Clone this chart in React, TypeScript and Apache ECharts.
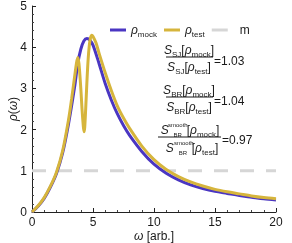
import React, { useEffect, useRef } from "react";
import * as echarts from "echarts";

const omegaMock = [0, 0.5, 1, 1.5, 2, 2.5, 3, 3.5, 3.75, 4, 4.25, 4.5, 4.75, 5, 5.5, 6, 6.5, 7, 7.5, 8, 9, 10, 11, 12, 13, 14, 15, 16, 17, 18, 19, 20];
const rhoMock = [0, 0.14, 0.33, 0.6, 0.93, 1.42, 2.15, 3.05, 3.6, 3.95, 4.15, 4.21, 4.17, 4.05, 3.6, 3.12, 2.72, 2.38, 2.1, 1.86, 1.47, 1.16, 0.94, 0.78, 0.66, 0.57, 0.5, 0.45, 0.4, 0.36, 0.32, 0.29];
const omegaTest = [0, 0.5, 1, 1.5, 2, 2.5, 3, 3.25, 3.5, 3.65, 3.75, 3.85, 4, 4.1, 4.2, 4.26, 4.32, 4.4, 4.5, 4.6, 4.7, 4.8, 4.9, 5, 5.25, 5.5, 6, 6.5, 7, 7.5, 8, 9, 10, 11, 12, 13, 14, 15, 16, 17, 18, 19, 20];
const rhoTest = [0, 0.15, 0.35, 0.62, 0.96, 1.47, 2.25, 2.75, 3.3, 3.62, 3.75, 3.6, 3.0, 2.5, 2.1, 1.95, 2.05, 2.5, 3.15, 3.7, 4.05, 4.23, 4.29, 4.26, 4.1, 3.85, 3.38, 2.95, 2.57, 2.28, 2.03, 1.6, 1.27, 1.03, 0.86, 0.73, 0.63, 0.55, 0.49, 0.44, 0.39, 0.35, 0.32];
const omegaM = [0, 20];
const rhoM = [1, 1];
const seriesNames = ["ρmock", "ρtest", "m"];
const ratioValues = ["=1.03", "=1.04", "=0.97"];

const FONT = "'Liberation Sans', Arial, sans-serif";
const BLUE = "#4a36c2";
const GOLD = "#d6b53c";
const GRAY = "#d6d6d6";
const TXT = "#1a1a1a";

const rich: any = {
  i: { fontSize: 12, fontStyle: "italic", fontFamily: FONT, fill: TXT, lineHeight: 16, verticalAlign: "middle" },
  n: { fontSize: 12, fontFamily: FONT, fill: TXT, lineHeight: 16, verticalAlign: "middle" },
  s: { fontSize: 8, fontFamily: FONT, fill: TXT, lineHeight: 16, verticalAlign: "bottom" },
  sw: { fontSize: 6, fontFamily: FONT, fill: TXT, lineHeight: 15, verticalAlign: "bottom", width: 18, align: "left" },
};

function textEl(x: number, y: number, text: string, align = "center") {
  return {
    type: "text",
    x,
    y,
    z: 100,
    style: { text, rich, align, verticalAlign: "middle", fontSize: 12, fontFamily: FONT, fill: TXT },
  };
}
function lineEl(x1: number, x2: number, y: number) {
  return { type: "line", z: 100, shape: { x1, y1: y, x2, y2: y }, style: { stroke: TXT, lineWidth: 1 } };
}
function supEl(x: number, y: number, text: string) {
  return {
    type: "text",
    x,
    y,
    z: 100,
    style: { text, align: "left", verticalAlign: "middle", fontSize: 6, fontFamily: FONT, fill: TXT },
  };
}

export default function App() {
  const ref = useRef<HTMLDivElement>(null);
  useEffect(() => {
    if (!ref.current) return;
    const chart = echarts.init(ref.current, null, { renderer: "svg" });
    const mockData = omegaMock.map((w, k) => [w, rhoMock[k]]);
    const testData = omegaTest.map((w, k) => [w, rhoTest[k]]);
    const mData = omegaM.map((w, k) => [w, rhoM[k]]);
    const axisCommon: any = {
      type: "value",
      axisLine: { show: true, lineStyle: { color: "#222", width: 1 } },
      axisTick: { show: true, inside: true, length: 4, lineStyle: { color: "#222" } },
      minorTick: { show: true, splitNumber: 5, length: 2, lineStyle: { color: "#444" } },
      splitLine: { show: false },
      minorSplitLine: { show: false },
      axisLabel: { color: TXT, fontSize: 12, fontFamily: FONT },
      nameMoveOverlap: false,
    };
    chart.setOption({
      animation: false,
      grid: { left: 32, right: 16, top: 6, bottom: 31, containLabel: false, outerBoundsMode: "none" },
      legend: {
        data: seriesNames,
        left: 105,
        top: 19,
        icon: "rect",
        itemWidth: 16,
        itemHeight: 3,
        itemGap: 7,
        formatter: (name: string) => {
          if (name === "m") return "{n|m}";
          return "{i|ρ}{s|" + name.slice(1) + "}";
        },
        textStyle: {
          fontFamily: FONT,
          fontSize: 12,
          color: TXT,
          rich: {
            i: { fontSize: 12, fontStyle: "italic", fontFamily: FONT, color: TXT, lineHeight: 16, verticalAlign: "middle" },
            n: { fontSize: 12, fontFamily: FONT, color: TXT, lineHeight: 16, verticalAlign: "middle", padding: [0, 0, 0, 7] },
            s: { fontSize: 8, fontFamily: FONT, color: TXT, lineHeight: 16, verticalAlign: "bottom" },
          },
        },
      },
      xAxis: {
        ...axisCommon,
        min: 0,
        max: 20,
        interval: 5,
        axisLabel: { ...axisCommon.axisLabel, margin: 4 },
        name: "{i|ω} [arb.]",
        nameLocation: "middle",
        nameGap: 18,
        nameTextStyle: {
          fontSize: 12,
          fontFamily: FONT,
          color: TXT,
          rich: { i: { fontSize: 12, fontStyle: "italic", fontFamily: FONT, color: TXT } },
        },
      },
      yAxis: {
        ...axisCommon,
        min: 0,
        max: 5,
        interval: 1,
        axisLabel: { ...axisCommon.axisLabel, margin: 5 },
        name: "{i|ρ}({i|ω})",
        nameLocation: "middle",
        nameGap: 13,
        nameTextStyle: {
          fontSize: 12,
          fontFamily: FONT,
          color: TXT,
          rich: { i: { fontSize: 12, fontStyle: "italic", fontFamily: FONT, color: TXT } },
        },
      },
      series: [
        {
          name: seriesNames[0],
          type: "line",
          data: mockData,
          smooth: 0.3,
          symbol: "none",
          z: 3,
          lineStyle: { color: BLUE, width: 3 },
          itemStyle: { color: BLUE },
        },
        {
          name: seriesNames[1],
          type: "line",
          data: testData,
          smooth: 0.3,
          symbol: "none",
          z: 4,
          lineStyle: { color: GOLD, width: 3 },
          itemStyle: { color: GOLD },
        },
        {
          name: seriesNames[2],
          type: "line",
          data: mData,
          symbol: "none",
          z: 2,
          lineStyle: { color: GRAY, width: 3, type: [14, 12] },
          itemStyle: { color: GRAY },
        },
      ],
      graphic: [
        textEl(189, 50, "{i|S}{s|SJ}{n|[}{i|ρ}{s|mock}{n|]}"),
        lineEl(166, 213, 57),
        textEl(189, 67, "{i|S}{s|SJ}{n|[}{i|ρ}{s|test}{n|]}"),
        textEl(214, 61, ratioValues[0], "left"),
        textEl(189, 90, "{i|S}{s|BR}{n|[}{i|ρ}{s|mock}{n|]}"),
        lineEl(166, 213, 97),
        textEl(189, 107, "{i|S}{s|BR}{n|[}{i|ρ}{s|test}{n|]}"),
        textEl(214, 101, ratioValues[1], "left"),
        textEl(190, 130, "{i|S}{sw|BR}{n|[}{i|ρ}{s|mock}{n|]}"),
        supEl(168, 125, "smooth"),
        lineEl(158, 221, 137),
        textEl(192, 148, "{i|S}{sw|BR}{n|[}{i|ρ}{s|test}{n|]}"),
        supEl(174, 143, "smooth"),
        textEl(222, 140, ratioValues[2], "left"),
      ],
    });
    return () => chart.dispose();
  }, []);
  return <div ref={ref} style={{ position: "fixed", left: 0, top: 0, width: 292, height: 243 }} />;
}
